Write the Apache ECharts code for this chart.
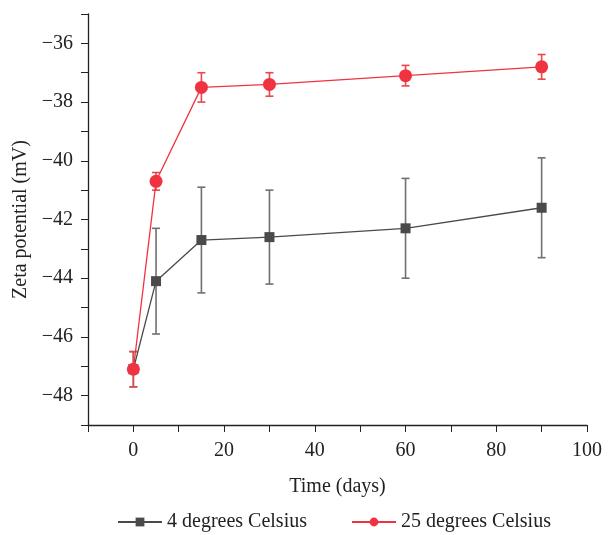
<!DOCTYPE html>
<html>
<head>
<meta charset="utf-8">
<script src="https://cdn.jsdelivr.net/npm/echarts@6/dist/echarts.min.js"></script>
<style>
html, body { margin: 0; padding: 0; background: #fff; }
#chart { width: 611px; height: 535px; }
</style>
</head>
<body>
<div id="chart"></div>
<script>
// time points (days)
var days = [0, 5, 15, 30, 60, 90];
// 4 degrees Celsius
var cold = [-47.1, -44.1, -42.7, -42.6, -42.3, -41.6];
var coldErr = [0.6, 1.8, 1.8, 1.6, 1.7, 1.7];
// 25 degrees Celsius
var warm = [-47.1, -40.7, -37.5, -37.4, -37.1, -36.8];
var warmErr = [0.6, 0.3, 0.5, 0.4, 0.35, 0.42];

var seriesNames = ['4 degrees Celsius', '25 degrees Celsius'];
var FONT = '"Liberation Serif", "DejaVu Serif", serif';

function pairs(xs, ys){
    var out = [];
    for (var i = 0; i < xs.length; i++) out.push([xs[i], ys[i]]);
    return out;
}

function errRows(xs, ys, es){
    var out = [];
    for (var i = 0; i < xs.length; i++) out.push([xs[i], ys[i] - es[i], ys[i] + es[i]]);
    return out;
}

function errorBars(color){
    return function(params, api){
        var lo = api.coord([api.value(0), api.value(1)]);
        var hi = api.coord([api.value(0), api.value(2)]);
        var cap = 4;
        var style = {stroke: color, lineWidth: 1.6};
        return {
            type: 'group',
            children: [
                {type: 'line', shape: {x1: lo[0], y1: lo[1], x2: hi[0], y2: hi[1]}, style: style},
                {type: 'line', shape: {x1: lo[0] - cap, y1: lo[1], x2: lo[0] + cap, y2: lo[1]}, style: style},
                {type: 'line', shape: {x1: hi[0] - cap, y1: hi[1], x2: hi[0] + cap, y2: hi[1]}, style: style}
            ]
        };
    };
}

function minus(v){
    return v < 0 ? '\u2212' + Math.abs(v) : String(v);
}

var myChart = echarts.init(document.getElementById('chart'));

var option = {
    animation: false,
    textStyle: {fontFamily: FONT},
    grid: {left: 88, right: 24, top: 14, bottom: 110, containLabel: false},
    legend: {
        data: seriesNames,
        bottom: -2,
        left: 112,
        itemWidth: 44,
        itemHeight: 11,
        itemGap: 44,
        textStyle: {fontFamily: FONT, fontSize: 20, color: '#222'}
    },
    xAxis: {
        type: 'value',
        min: -10,
        max: 100,
        interval: 10,
        name: 'Time (days)',
        nameLocation: 'middle',
        nameGap: 52,
        nameTextStyle: {fontFamily: FONT, fontSize: 20, color: '#222'},
        axisLine: {onZero: false, lineStyle: {color: '#222', width: 1.3}},
        axisTick: {length: 7, lineStyle: {color: '#222'}},
        splitLine: {show: false},
        axisLabel: {
            fontFamily: FONT, fontSize: 20, color: '#222', margin: 16,
            formatter: function(v){ return v % 20 === 0 ? minus(v) : ''; }
        }
    },
    yAxis: {
        type: 'value',
        min: -49,
        max: -35,
        interval: 1,
        name: 'Zeta potential (mV)',
        nameLocation: 'middle',
        nameGap: 56,
        nameTextStyle: {fontFamily: FONT, fontSize: 20, color: '#222'},
        axisLine: {show: true, onZero: false, lineStyle: {color: '#222', width: 1.3}},
        axisTick: {show: true, length: 7, lineStyle: {color: '#222'}},
        splitLine: {show: false},
        axisLabel: {
            fontFamily: FONT, fontSize: 20, color: '#222', margin: 15,
            formatter: function(v){ return v % 2 === 0 ? minus(v) : ''; }
        }
    },
    series: [
        {
            name: 'err4',
            type: 'custom',
            renderItem: errorBars('#707070'),
            data: errRows(days, cold, coldErr),
            encode: {x: 0, y: [1, 2]},
            z: 1,
            silent: true
        },
        {
            name: 'err25',
            type: 'custom',
            renderItem: errorBars('#e8474e'),
            data: errRows(days, warm, warmErr),
            encode: {x: 0, y: [1, 2]},
            z: 1,
            silent: true
        },
        {
            name: seriesNames[0],
            type: 'line',
            data: pairs(days, cold),
            symbol: 'rect',
            symbolSize: 10,
            color: '#4a4a4a',
            lineStyle: {color: '#4a4a4a', width: 1.3},
            itemStyle: {color: '#4a4a4a'},
            z: 3
        },
        {
            name: seriesNames[1],
            type: 'line',
            data: pairs(days, warm),
            symbol: 'circle',
            symbolSize: 13,
            color: '#ef3340',
            lineStyle: {color: '#ef3340', width: 1.3},
            itemStyle: {color: '#ef3340'},
            z: 4
        }
    ]
};

myChart.setOption(option, true);
</script>
</body>
</html>
